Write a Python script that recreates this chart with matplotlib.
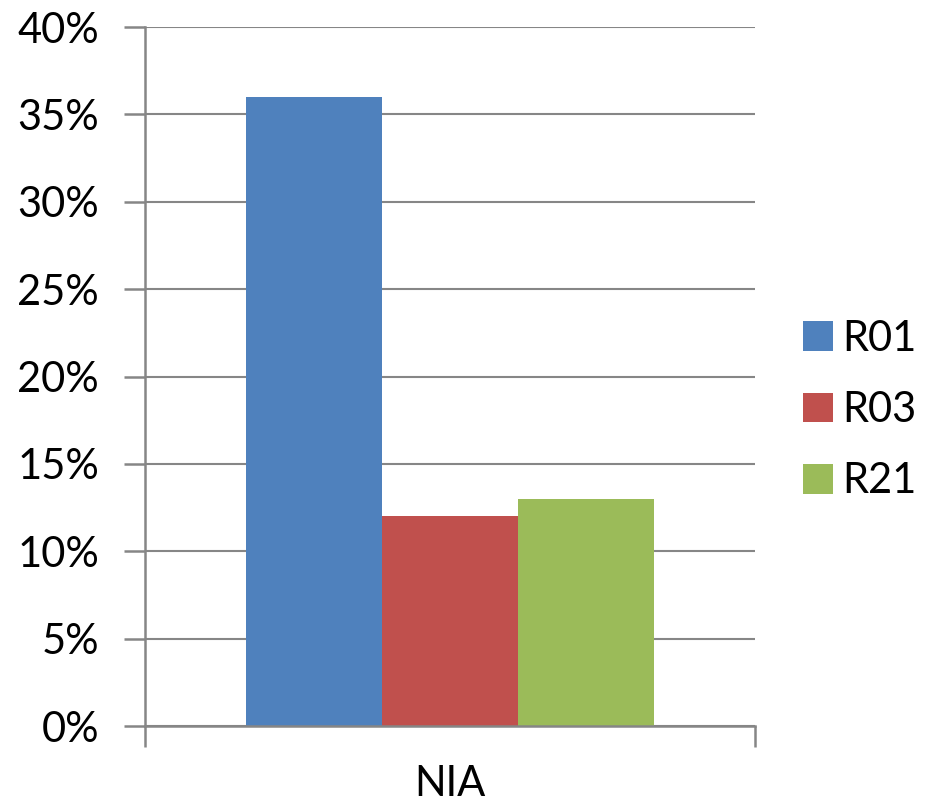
import matplotlib
matplotlib.use("Agg")
import matplotlib.pyplot as plt
from matplotlib.ticker import FuncFormatter, MultipleLocator
from matplotlib.patches import Patch

categories = ["NIA"]
series_names = ["R01", "R03", "R21"]
values = [36, 12, 13]  # percent
colors = ["#4F81BD", "#C0504D", "#9BBB59"]

plt.rcParams['font.family'] = ['Lato', 'DejaVu Sans']

fig = plt.figure(figsize=(9.32, 8.05), dpi=100)
ax = fig.add_axes([145/932, 1-726/805, 610/932, 699/805])

width = 136/610
n = len(series_names)
for i, (name, v, c) in enumerate(zip(series_names, values, colors)):
    x = 0 + (i - (n-1)/2) * width
    ax.bar(x, v, width=width, color=c, label=name, zorder=3)

ax.set_xlim(-0.5, 0.5)
ax.set_ylim(0, 40)
ax.yaxis.set_major_locator(MultipleLocator(5))
ax.yaxis.set_major_formatter(FuncFormatter(lambda v, p: f"{v:.0f}%"))
ax.grid(axis='y', color='#868686', linewidth=1.5, zorder=0)

for s in ['top', 'right']:
    ax.spines[s].set_visible(False)
for s in ['left', 'bottom']:
    ax.spines[s].set_color('#868686')
    ax.spines[s].set_linewidth(1.8)
    ax.spines[s].set_zorder(4)

ax.set_xticks([-0.5, 0.5])
ax.set_xticklabels(["", ""])
ax.set_xticks([0], minor=True)
ax.set_xticklabels(categories, minor=True)
ax.tick_params(axis='x', which='major', length=15, width=1.8, color='#868686', direction='out')
ax.tick_params(axis='x', which='minor', length=0, pad=28, labelsize=30)
ax.tick_params(axis='y', length=15, width=1.8, color='#868686', direction='out', pad=18, labelsize=30)

handles = [Patch(facecolor=c, label=nm) for nm, c in zip(series_names, colors)]
leg = fig.legend(handles=handles, loc='center left', bbox_to_anchor=(786/932, 1-410/805),
                 frameon=False, fontsize=30, handlelength=0.72, handleheight=0.72,
                 handletextpad=0.24, labelspacing=0.8, borderaxespad=0)

fig.savefig("out.png", dpi=100)
